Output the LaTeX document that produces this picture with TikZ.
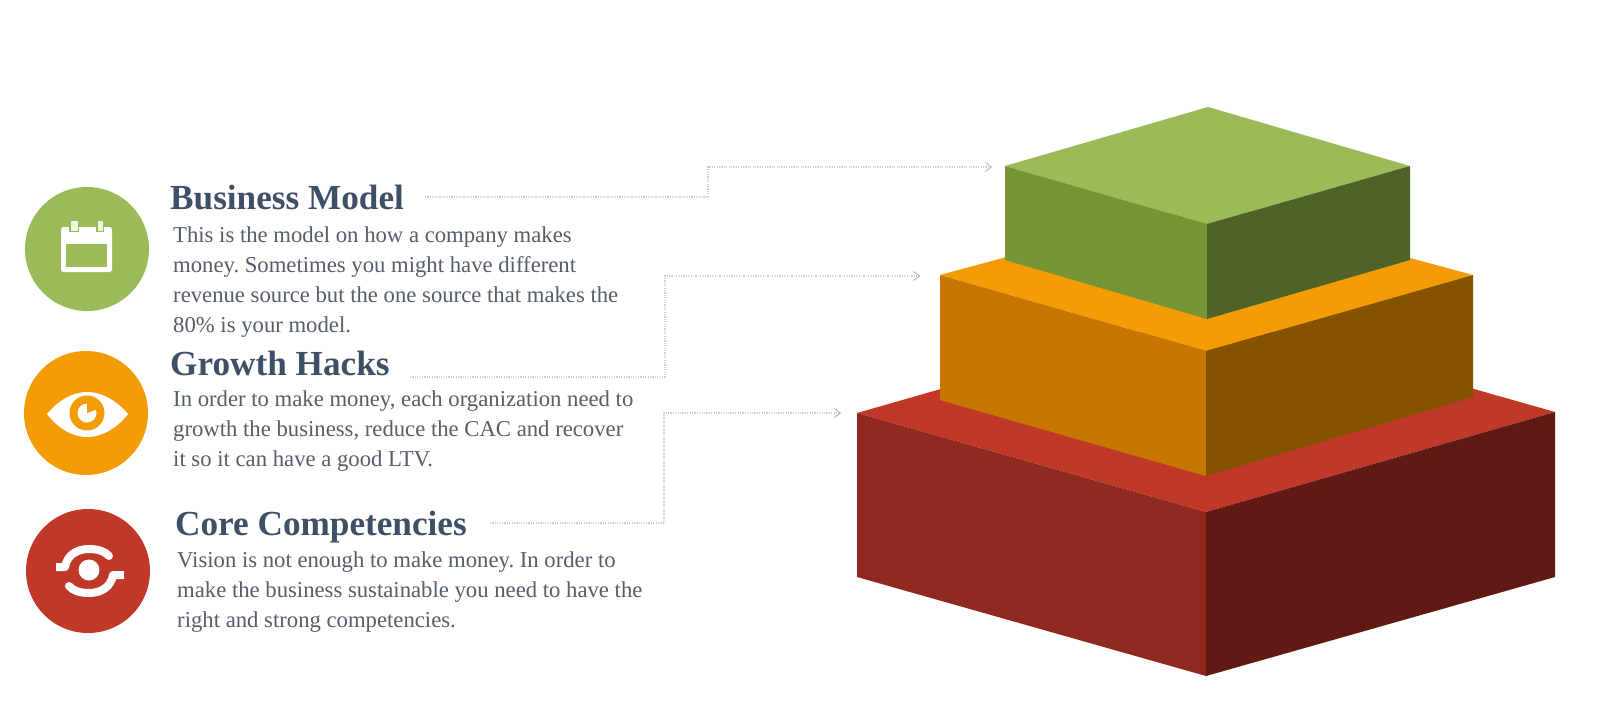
\documentclass[tikz,border=0pt]{standalone}
\usepackage{fontspec}
\setmainfont{Liberation Serif}
\usetikzlibrary{arrows.meta}
\definecolor{grnT}{HTML}{9BBB59}
\definecolor{grnL}{HTML}{769535}
\definecolor{grnR}{HTML}{4F6228}
\definecolor{orgT}{HTML}{F39C05}
\definecolor{orgL}{HTML}{C77700}
\definecolor{orgR}{HTML}{855300}
\definecolor{redT}{HTML}{BF3828}
\definecolor{redL}{HTML}{8F281F}
\definecolor{redR}{HTML}{601A13}
\definecolor{headc}{HTML}{3F4F68}
\definecolor{bodyc}{HTML}{555E6B}
\definecolor{linkc}{HTML}{CFCFCF}
\tikzset{
  x=1pt,y=-1pt,
  heading/.style={anchor=base west,inner sep=0pt,text=headc,font=\fontsize{35.2}{38}\bfseries\selectfont},
  para/.style={anchor=north west,inner sep=0pt,align=left,text=bodyc,font=\fontsize{22.7}{30}\selectfont\frenchspacing},
  badge/.style={circle,minimum size=124pt,inner sep=0pt},
  link/.style={draw=linkc,line width=1.2pt,dash pattern=on 1.2pt off 1.2pt,-{Straight Barb[length=6pt,width=9pt,line width=0.8pt,color=linkc!85!black,sep=0pt]}},
  iconline/.style={draw=white,line width=8pt,line join=round}
}
\begin{document}
\begin{tikzpicture}
\useasboundingbox (0,0) rectangle (1616,720);
\fill[white] (0,0) rectangle (1616,720);

% bottom tier
\fill[redT] (857,413) -- (1206,313) -- (1555,412) -- (1206,512) -- cycle;
\fill[redL] (857,413) -- (1206,512) -- (1206,676) -- (857,577) -- cycle;
\fill[redR] (1555,412) -- (1206,512) -- (1206,676) -- (1555,577) -- cycle;
% middle tier
\fill[orgT] (940,275) -- (1206,203) -- (1473,275) -- (1206,351) -- cycle;
\fill[orgL] (940,275) -- (1206,351) -- (1206,476) -- (940,400) -- cycle;
\fill[orgR] (1473,275) -- (1206,351) -- (1206,476) -- (1473,397) -- cycle;
% top tier
\fill[grnT] (1005,166) -- (1208,107) -- (1410,166) -- (1207,224) -- cycle;
\fill[grnL] (1005,166) -- (1207,224) -- (1207,319) -- (1005,260) -- cycle;
\fill[grnR] (1410,166) -- (1207,224) -- (1207,319) -- (1410,260) -- cycle;

% round badges
\node[badge,fill=grnT] (bmBadge) at (87,249) {};
\node[badge,fill=orgT] (ghBadge) at (86,413) {};
\node[badge,fill=redT] (ccBadge) at (88,571) {};

% calendar glyph
\fill[white,rounded corners=2.5pt] (61,227) rectangle (112,272);
\fill[grnT] (66,244) rectangle (107,267);
\fill[grnT] (69,220) rectangle (79,232);
\fill[grnT] (96,220) rectangle (104,232);
\fill[white!85!grnT] (70.5,221) rectangle (77.5,231);
\fill[white!85!grnT] (97.5,221) rectangle (102.5,231);

% eye glyph
\fill[white] (47,414) .. controls (57,402) and (71,392) .. (87,392)
  .. controls (103,392) and (118,402) .. (128,414)
  .. controls (118,427) and (103,437) .. (87,437)
  .. controls (71,437) and (57,427) .. (47,414) -- cycle;
\fill[orgT] (87,413) circle (17.5);
\fill[white] (87,413) circle (9.5);
\fill[orgT] (87,413) -- (87,403) arc[start angle=-90,end angle=-20,radius=10] -- cycle;

% linked-rings glyph
\fill[white] (89,570) circle (10.5);
\draw[iconline] (56,567) -- (65,567) .. controls (67,555) and (77,549) .. (89,549)
  .. controls (97,549) and (105,551) .. (109,556);
\draw[iconline] (124,575) -- (113,575) .. controls (111,587) and (101,593) .. (89,593)
  .. controls (81,593) and (73,591) .. (69,586);
\fill[white] (109,556) circle (4);
\fill[white] (69,586) circle (4);

% text blocks
\node[heading] (bmHead) at (170,209) {Business Model};
\node[para] (bmText) at (173,227) {This is the model on how a company makes\\money. Sometimes you might have different\\revenue source but the one source that makes the\\80\% is your model.};
\node[heading] (ghHead) at (170,375) {Growth Hacks};
\node[para] (ghText) at (173,391) {In order to make money, each organization need to\\growth the business, reduce the CAC and recover\\it so it can have a good LTV.};
\node[heading] (ccHead) at (175,535) {Core Competencies};
\node[para] (ccText) at (177,552) {Vision is not enough to make money. In order to\\make the business sustainable you need to have the\\right and strong competencies.};

% dotted leaders from the headings to the tiers
\coordinate (bmStart) at (425,197);
\coordinate (bmEnd) at (992,167);
\coordinate (ghStart) at (410,377);
\coordinate (ghEnd) at (920,276);
\coordinate (ccStart) at (490,523);
\coordinate (ccEnd) at (841,413);
\draw[link] (bmStart) -- (708,197) -- (708,167) -- (bmEnd);
\draw[link] (ghStart) -- (665,377) -- (665,276) -- (ghEnd);
\draw[link] (ccStart) -- (664,523) -- (664,413) -- (ccEnd);
\end{tikzpicture}
\end{document}
